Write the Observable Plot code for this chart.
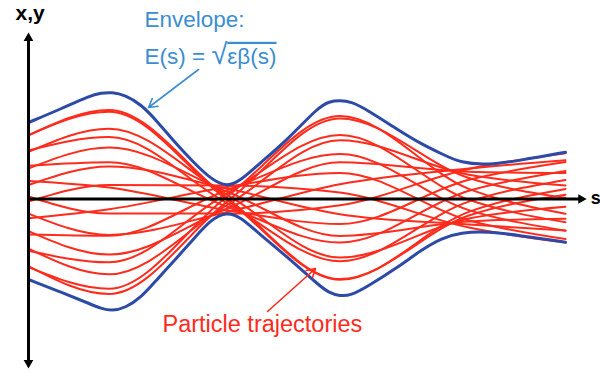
<!DOCTYPE html>
<html><head><meta charset="utf-8">
<script src="https://cdn.jsdelivr.net/npm/d3@7"></script>
<script src="https://cdn.jsdelivr.net/npm/@observablehq/plot@0.6"></script>
<style>body{margin:0;background:#fff}#chart{width:600px;height:372px}</style>
</head><body><div id="chart"></div>
<script>
// Knot positions along s for the particle trajectories
const knotS = [0, 1.5, 3.7, 5.8, 8.2, 10];
// Particle trajectory transverse positions at the knots
const trajectoryY = [
  [6.39, 8.73, -0.09, -8.08, -1.29, 1.01],
  [6.36, 8.90, 0.09, -8.01, -1.65, 0.43],
  [4.86, 6.20, -0.43, -6.22, -0.26, 1.91],
  [4.71, 7.03, 0.41, -5.85, -1.95, -0.78],
  [3.32, 3.67, -0.78, -4.36, 0.83, 2.80],
  [3.05, 5.14, 0.73, -3.69, -2.25, -1.97],
  [1.79, 1.14, -1.12, -2.50, 1.92, 3.69],
  [1.40, 3.26, 1.04, -1.53, -2.55, -3.16],
  [0.25, -1.45, -1.46, -0.63, 3.01, 4.58],
  [-0.26, 1.39, 1.36, 0.64, -2.85, -4.35],
  [-1.46, -3.59, -1.29, 1.48, 3.05, 3.87],
  [-1.92, -1.03, 1.20, 2.61, -2.15, -4.01],
  [-3.21, -5.56, -0.95, 3.67, 2.73, 2.61],
  [-3.55, -3.67, 0.88, 4.50, -1.11, -3.17],
  [-4.96, -7.53, -0.60, 5.87, 2.42, 1.36],
  [-5.18, -6.33, 0.57, 6.40, -0.08, -2.32],
  [-6.71, -9.50, -0.26, 8.05, 2.10, 0.10],
  [-6.81, -8.97, 0.25, 8.29, 1.01, -1.47]
];
// Envelope E(s): sample positions and upper / lower edges
const envS = [0, 0.6, 1.15, 1.35, 1.55, 1.8, 2.1, 2.4, 2.75, 3.05, 3.4, 3.7, 3.95, 4.3, 4.8, 5.4, 5.6, 5.8, 6.0, 6.3, 6.9, 7.3, 7.7, 8.05, 8.55, 9.15, 10];
const envTop = [7.65, 9.0, 10.35, 10.6, 10.68, 10.4, 9.45, 7.75, 5.5, 3.8, 1.95, 1.2, 1.85, 3.55, 5.8, 9.2, 9.75, 9.85, 9.75, 8.95, 6.85, 5.55, 4.5, 3.6, 3.4, 3.85, 4.68];
const envBottom = [-8.05, -9.3, -10.5, -10.95, -11.2, -10.9, -9.85, -8.0, -5.95, -4.15, -2.0, -1.3, -1.8, -3.5, -5.7, -8.6, -9.4, -9.7, -9.65, -8.8, -6.75, -5.15, -3.9, -3.35, -3.25, -3.65, -4.32];
// Axis extents
const axisS = [0, 10.29];
const axisY = [-16.39, 16.09];
// Labels
const axisLabelV = "x,y";
const axisLabelH = "s";
const envelopeLabel = "Envelope:";
const formulaLabel = "E(s) = \u221A\u03B5\u03B2(s)";
const particleLabel = "Particle trajectories";

const RED = "#ff2b1c", NAVY = "#2c4aa6", SKY = "#3c8ed2";

const trajRows = trajectoryY.flatMap((ys, id) => ys.map((y, k) => ({s: knotS[k], y, id})));
const envRows = envS.flatMap((s, i) => [{s, y: envTop[i], side: "top"}, {s, y: envBottom[i], side: "bottom"}]);

const chart = Plot.plot({
  width: 600, height: 372, margin: 0,
  x: {domain: [-0.5214, 10.6518], axis: null},
  y: {domain: [-17.35, 19.85], axis: null},
  style: {fontFamily: "'Liberation Sans', Arial, Helvetica, sans-serif", background: "#fff", overflow: "visible"},
  marks: [
    Plot.line(trajRows, {x: "s", y: "y", z: "id", stroke: RED, strokeWidth: 2, curve: "monotone-x"}),
    Plot.line(envRows, {x: "s", y: "y", z: "side", stroke: NAVY, strokeWidth: 3, curve: "basis"}),
    Plot.ruleX([axisS[0]], {y1: axisY[0], y2: axisY[1], stroke: "#000", strokeWidth: 3}),
    Plot.ruleY([0], {x1: axisS[0], x2: axisS[1], stroke: "#000", strokeWidth: 3}),
    Plot.dot([0], {x: axisS[0], y: axisY[1], symbol: "triangle", r: 3.6, fill: "#000", stroke: null}),
    Plot.dot([0], {x: axisS[0], y: axisY[0], symbol: "triangle", r: 3.6, fill: "#000", stroke: null, rotate: 180}),
    Plot.dot([0], {x: axisS[1], y: 0, symbol: "triangle", r: 3.6, fill: "#000", stroke: null, rotate: 90}),
    Plot.text([axisLabelV], {x: 0.03, y: 17.95, text: d => d, fontSize: 21, fontWeight: "bold", fill: "#000", lineAnchor: "bottom"}),
    Plot.text([axisLabelH], {x: 10.47, y: -0.45, text: d => d, fontSize: 18, fontWeight: "bold", fill: "#000", textAnchor: "start", lineAnchor: "bottom"}),
    Plot.text([envelopeLabel], {x: 2.16, y: 17.18, text: d => d, fontSize: 22.5, fill: SKY, textAnchor: "start", lineAnchor: "bottom"}),
    Plot.text([formulaLabel], {x: 2.16, y: 13.52, text: d => d, fontSize: 22.5, fill: SKY, textAnchor: "start", lineAnchor: "bottom"}),
    Plot.arrow([0], {x1: 3.166, y1: 12.95, x2: 2.235, y2: 9.15, stroke: SKY, strokeWidth: 1.6, headLength: 9}),
    Plot.text([particleLabel], {x: 2.495, y: -13.32, text: d => d, fontSize: 23.5, fill: RED, textAnchor: "start", lineAnchor: "bottom"}),
    Plot.arrow([0], {x1: 4.451, y1: -11.25, x2: 5.345, y2: -6.95, stroke: RED, strokeWidth: 1.6, headLength: 9})
  ]
});

// Typeset the radical with an overline over its argument
const ns = "http://www.w3.org/2000/svg";
const ft = [...chart.querySelectorAll("text")].find(t => t.textContent === formulaLabel);
if (ft) {
  ft.textContent = "";
  const a = document.createElementNS(ns, "tspan"); a.textContent = "E(s) = ";
  const r = document.createElementNS(ns, "tspan"); r.textContent = "\u221A"; r.setAttribute("font-size", "29");
  const b = document.createElementNS(ns, "tspan"); b.textContent = "\u03B5\u03B2(s)"; b.setAttribute("style", "text-decoration: overline");
  ft.append(a, r, b);
}
document.getElementById("chart").append(chart);
</script></body></html>
